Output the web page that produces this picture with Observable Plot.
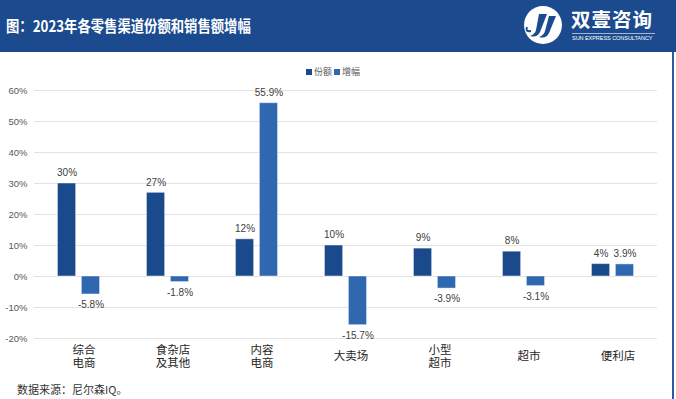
<!DOCTYPE html>
<html>
<head>
<meta charset="utf-8">
<script src="https://cdn.jsdelivr.net/npm/d3@7"></script>
<script src="https://cdn.jsdelivr.net/npm/@observablehq/plot@0.6"></script>
<style>
  html, body { margin: 0; padding: 0; background: #fff; }
  #wrap { position: relative; width: 676px; height: 399px; overflow: hidden; background: #fff;
          font-family: "Liberation Sans", Arial, "Noto Sans CJK SC", sans-serif; }
  #header { position: absolute; left: 0; top: 0; width: 676px; height: 52px; background: #1b4a8e; }
  #title { position: absolute; left: 6px; top: 15px; color: #fff; font-size: 15.5px; font-weight: bold;
           font-family: "Noto Sans CJK SC", "Liberation Sans", sans-serif; white-space: nowrap;
           transform: scaleX(0.86); transform-origin: left center; line-height: 20px; }
  #logoText { position: absolute; left: 571px; top: 8px; color: #fff; font-size: 19.5px; font-weight: bold;
              font-family: "Noto Sans CJK SC", sans-serif; line-height: 22px; letter-spacing: 1px; white-space: nowrap; }
  #logoLine { position: absolute; left: 572px; top: 33px; width: 83px; height: 1px; background: rgba(255,255,255,0.6); }
  #logoSub { position: absolute; left: 572px; top: 35px; color: #fff; font-size: 5.6px; line-height: 7px;
             font-family: "Liberation Sans", sans-serif; white-space: nowrap; letter-spacing: -0.1px; }
  #logoIcon { position: absolute; left: 522px; top: 5px; }
  #legend { position: absolute; left: 306px; top: 66px; font-size: 9px; color: #595959; white-space: nowrap;
            font-family: "Noto Sans CJK SC", sans-serif; line-height: 12px; }
  #legend span.sw { display: inline-block; width: 6px; height: 6px; margin-right: 2px; vertical-align: 0px; }
  #chart { position: absolute; left: 0; top: 52px; }
  #source { position: absolute; left: 17px; top: 382px; font-size: 11px; color: #333;
            font-family: "Noto Sans CJK SC", sans-serif; line-height: 14px; white-space: nowrap; }
  #rborder { position: absolute; left: 672px; top: 52px; width: 2px; height: 347px; background: #2a5aa0; }
</style>
</head>
<body>
<div id="wrap">
  <div id="header">
    <div id="title">图：2023年各零售渠道份额和销售额增幅</div>
    <svg id="logoIcon" width="42" height="40" viewBox="0 0 42 40">
      <circle cx="21" cy="20" r="19" fill="#ffffff"/>
      <path d="M17 9 L25 9 L18 27 Q15 33 8 31 Q13 29 14 25 Z" fill="#1b4a8e"/>
      <path d="M27 11 L34 11 L27 28 Q24 34 17 32 Q22 30 23 26 Z" fill="#1b4a8e"/>
      <path d="M5 22 Q3 27 9 26" stroke="#1b4a8e" stroke-width="2" fill="none"/>
    </svg>
    <div id="logoText">双壹咨询</div>
    <div id="logoLine"></div>
    <div id="logoSub">SUN EXPRESS CONSULTANCY</div>
  </div>
  <div id="legend"><span class="sw" style="background:#1a4a8c"></span>份额 <span class="sw" style="background:#2f67b0"></span>增幅</div>
  <div id="chart"></div>
  <div id="source">数据来源：尼尔森IQ。</div>
  <div id="rborder"></div>
</div>
<script>
const categories = ["综合电商", "食杂店及其他", "内容电商", "大卖场", "小型超市", "超市", "便利店"];
const categoryLabels = ["综合\n电商", "食杂店\n及其他", "内容\n电商", "大卖场", "小型\n超市", "超市", "便利店"];
const seriesNames = ["份额", "增幅"];
const shareValues = [30, 27, 12, 10, 9, 8, 4];
const growthValues = [-5.8, -1.8, 55.9, -15.7, -3.9, -3.1, 3.9];
const yTicks = [-20, -10, 0, 10, 20, 30, 40, 50, 60];

const data = [];
categories.forEach((c, i) => {
  data.push({cat: c, series: seriesNames[0], value: shareValues[i], label: shareValues[i] + "%"});
  data.push({cat: c, series: seriesNames[1], value: growthValues[i], label: growthValues[i].toFixed(1) + "%"});
});
const labelOf = new Map(categories.map((c, i) => [c, categoryLabels[i]]));

const chart = Plot.plot({
  width: 676,
  height: 330,
  marginLeft: 32.5,
  marginRight: 17.5,
  marginTop: 38,
  marginBottom: 44,
  style: {fontFamily: "'Liberation Sans', Arial, 'Noto Sans CJK SC', sans-serif", background: "transparent"},
  fx: {domain: categories, paddingInner: 0, paddingOuter: 0, axis: null, label: null},
  x: {domain: seriesNames, paddingInner: 0.24, paddingOuter: 0.98, axis: null, round: false},
  y: {domain: [-20, 60], ticks: yTicks, label: null, axis: null},
  color: {domain: seriesNames, range: ["#1a4a8c", "#2f67b0"]},
  marks: [
    Plot.gridY(yTicks, {stroke: "#e3e3e3", strokeOpacity: 1, strokeWidth: 1}),
    Plot.axisY(yTicks, {tickSize: 0, tickPadding: 7, tickFormat: d => d + "%", fontSize: 9.5, fill: "#595959", label: null, facetAnchor: "left"}),
    Plot.barY(data, {fx: "cat", x: "series", y: "value", fill: "series", stroke: "#ffffff", strokeOpacity: 0.45, strokeWidth: 1}),
    Plot.text(data.filter(d => d.value >= 0), {fx: "cat", x: "series", y: "value", text: "label", dy: -10.5, lineAnchor: "middle", fontSize: 10, fill: "#404040"}),
    Plot.text(data.filter(d => d.value < 0), {fx: "cat", x: "series", y: "value", text: "label", dy: 10.5, lineAnchor: "middle", fontSize: 10, fill: "#404040"}),
    Plot.text(categories, {fx: d => d, text: d => labelOf.get(d), frameAnchor: "bottom", dy: 17.5, dx: 5, lineAnchor: "middle", lineHeight: 1.2, fontSize: 11.5, fill: "#262626", fontFamily: "'Liberation Sans', 'Noto Sans CJK SC', sans-serif"})
  ]
});
document.getElementById("chart").appendChild(chart);
</script>
</body>
</html>
